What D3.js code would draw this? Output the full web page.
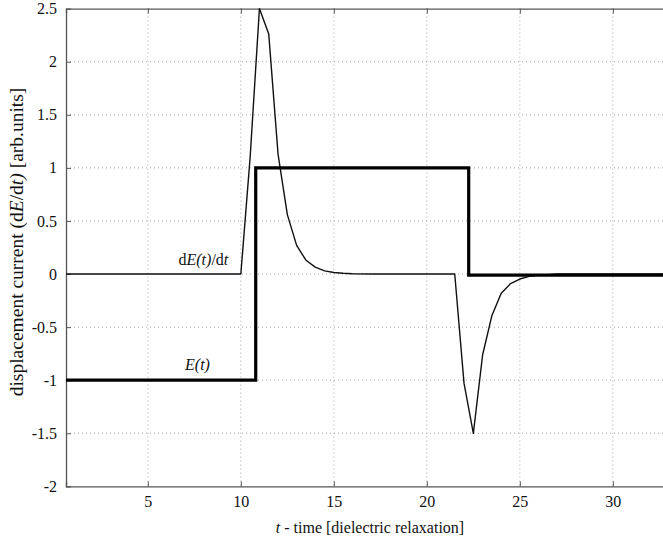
<!DOCTYPE html>
<html>
<head>
<meta charset="utf-8">
<script src="https://cdnjs.cloudflare.com/ajax/libs/d3/7.8.5/d3.min.js"></script>
<style>
  body { margin: 0; background: #fff; }
  svg { display: block; font-family: "Liberation Serif", "Times New Roman", serif; }
</style>
</head>
<body>
<div class="graph"></div>
<script>
// time axis samples for the displacement current dE/dt
var curT = [0.6, 10.0, 10.5, 11.0, 11.5, 12.0, 12.5, 13.0, 13.5, 14.0, 14.5, 15.0, 15.5, 16.0, 17.0,
            21.5, 22.0, 22.5, 23.0, 23.5, 24.0, 24.5, 25.0, 25.5, 26.0, 26.5, 27.0, 33];
var curVal = [0, 0, 1.1, 2.5, 2.26, 1.13, 0.56, 0.27, 0.13, 0.065, 0.03, 0.015, 0.007, 0.003, 0,
              0, -1.03, -1.5, -0.76, -0.39, -0.18, -0.09, -0.047, -0.022, -0.01, -0.005, 0, 0];

// field E(t), a square pulse
var fieldT = [0.6, 10.8, 10.8, 22.25, 22.25, 33];
var fieldVal = [-1, -1, 1, 1, -0.01, -0.01];

var xTicks = [5, 10, 15, 20, 25, 30];
var yTicks = [-2, -1.5, -1, -0.5, 0, 0.5, 1, 1.5, 2, 2.5];

var W = 663, H = 544;
var plotLeft = 66, plotTop = 8.6, plotBottom = 486.4;
var serif = "Liberation Serif, Times New Roman, serif";

var svg = d3.select(".graph").append("svg")
    .attr("width", W)
    .attr("height", H)
    .attr("font-family", serif);

svg.append("rect").attr("width", W).attr("height", H).attr("fill", "#fff");

var x = d3.scaleLinear().domain([0.6, 33]).range([plotLeft, plotLeft + 32.4 * 18.6]);
var y = d3.scaleLinear().domain([-2, 2.5]).range([plotBottom, plotTop]);

var plotRight = x(33);

// grid (dotted)
var grid = svg.append("g").attr("class", "grid")
    .attr("stroke", "#a8a8a8").attr("stroke-width", 1)
    .attr("stroke-dasharray", "1,3");
grid.selectAll("line.gx").data(xTicks).enter().append("line")
    .attr("x1", function (d) { return x(d); })
    .attr("x2", function (d) { return x(d); })
    .attr("y1", plotTop).attr("y2", plotBottom);
grid.selectAll("line.gy").data(yTicks.slice(1, -1)).enter().append("line")
    .attr("x1", plotLeft).attr("x2", plotRight)
    .attr("y1", function (d) { return y(d); })
    .attr("y2", function (d) { return y(d); });

// axes, ticks pointing inward
var axisColor = "#555";
var xAxisCall = d3.axisBottom(x).tickValues(xTicks).tickSize(-5).tickPadding(9).tickFormat(d3.format("d"));
var gx = svg.append("g")
    .attr("class", "x-axis")
    .attr("transform", "translate(0," + plotBottom + ")")
    .call(xAxisCall);

var xTopCall = d3.axisTop(x).tickValues(xTicks).tickSize(-5).tickFormat("");
var gxt = svg.append("g")
    .attr("class", "x-top")
    .attr("transform", "translate(0," + plotTop + ")")
    .call(xTopCall);

var yAxisCall = d3.axisLeft(y).tickValues(yTicks).tickSize(-5).tickPadding(9)
    .tickFormat(function (d) { return String(d); });
var gy = svg.append("g")
    .attr("class", "y-axis")
    .attr("transform", "translate(" + plotLeft + ",0)")
    .call(yAxisCall);

[gx, gxt, gy].forEach(function (g) {
    g.attr("font-family", serif).attr("font-size", 16);
    g.select(".domain").attr("stroke", axisColor).attr("stroke-width", 1.3);
    g.selectAll(".tick line").attr("stroke", axisColor);
    g.selectAll("text").attr("fill", "#111").style("font-family", serif);
});
gy.selectAll(".tick line").filter(function (d) { return d === 2.5 || d === -2; }).remove();

// the curves
var line = d3.line()
    .x(function (d) { return x(d[0]); })
    .y(function (d) { return y(d[1]); });

var curData = curT.map(function (t, i) { return [t, curVal[i]]; });
var fieldData = fieldT.map(function (t, i) { return [t, fieldVal[i]]; });

svg.append("path")
    .datum(curData)
    .attr("d", line)
    .attr("fill", "none")
    .attr("stroke", "#111")
    .attr("stroke-width", 1.4)
    .attr("stroke-linejoin", "round");

svg.append("path")
    .datum(fieldData)
    .attr("d", line)
    .attr("fill", "none")
    .attr("stroke", "#000")
    .attr("stroke-width", 3.2);

// curve labels
var lbl1 = svg.append("text")
    .attr("x", x(6.65)).attr("y", y(0.085))
    .attr("font-size", 16).attr("fill", "#111");
lbl1.append("tspan").text("d");
lbl1.append("tspan").style("font-style", "italic").text("E(t)");
lbl1.append("tspan").text("/d");
lbl1.append("tspan").style("font-style", "italic").text("t");

svg.append("text")
    .attr("x", x(7.0)).attr("y", y(-0.9))
    .attr("font-size", 16).style("font-style", "italic").attr("fill", "#111")
    .text("E(t)");

// axis titles
var xl = svg.append("text")
    .attr("x", 370).attr("y", 533)
    .attr("text-anchor", "middle")
    .attr("font-size", 16).attr("fill", "#111");
xl.append("tspan").style("font-style", "italic").text("t");
xl.append("tspan").text(" - time [dielectric relaxation]");

var yl = svg.append("text")
    .attr("transform", "translate(23,242) rotate(-90)")
    .attr("text-anchor", "middle")
    .attr("font-size", 19.5).attr("fill", "#111");
yl.append("tspan").text("displacement current (d");
yl.append("tspan").style("font-style", "italic").text("E");
yl.append("tspan").text("/d");
yl.append("tspan").style("font-style", "italic").text("t)");
yl.append("tspan").text(" [arb.units]");
</script>
</body>
</html>
